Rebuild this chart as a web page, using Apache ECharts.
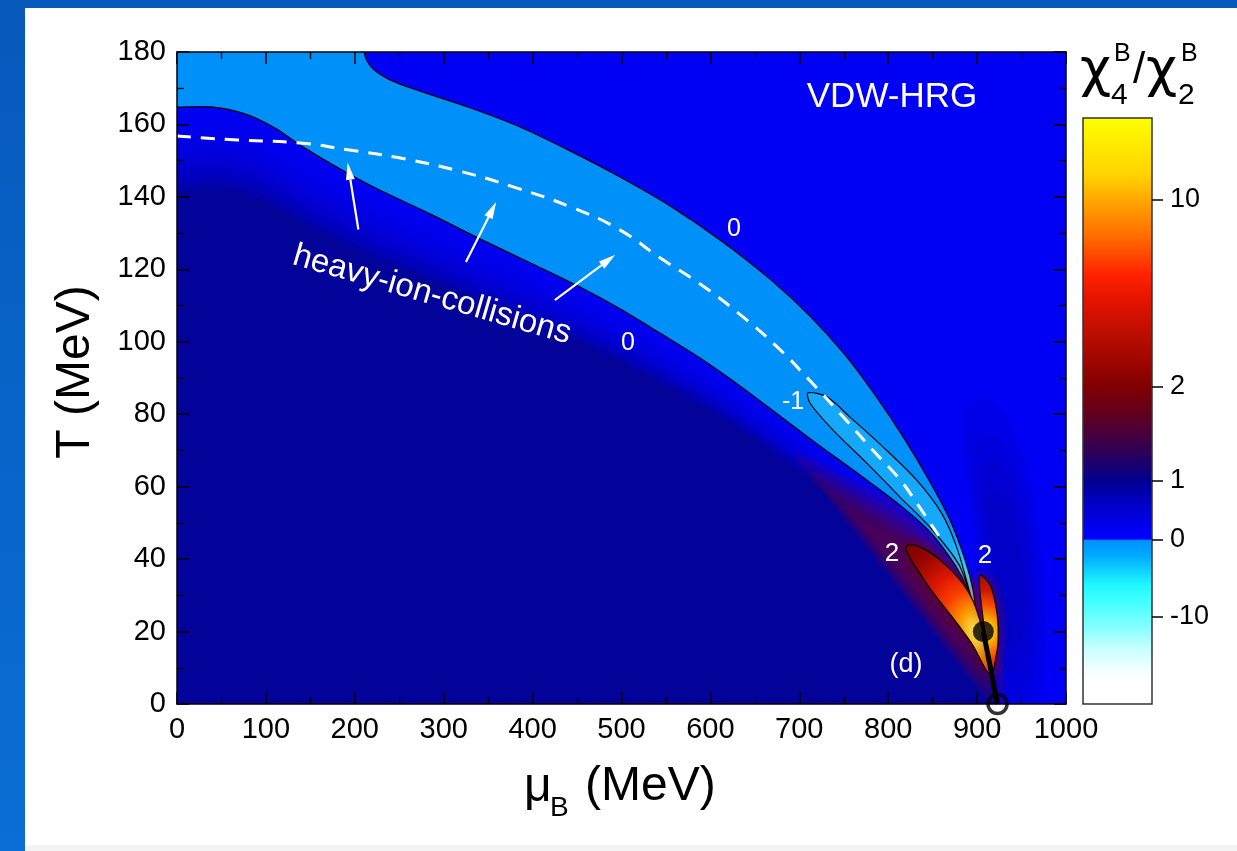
<!DOCTYPE html>
<html><head><meta charset="utf-8">
<script src="https://cdn.jsdelivr.net/npm/echarts/dist/echarts.min.js"></script>
<style>
html,body{margin:0;padding:0;width:1237px;height:851px;overflow:hidden;background:linear-gradient(180deg,#0759bb 0%,#0a6ed6 100%);}
#panel{position:absolute;left:25px;top:8px;width:1212px;height:843px;background:#fff;}
#foot{position:absolute;left:25px;top:845px;width:1212px;height:6px;background:#f3f3f3;}
#chart{position:absolute;left:0;top:0;width:1237px;height:851px;}
</style></head><body>
<div id="panel"></div><div id="foot"></div><div id="chart"></div>
<script>
// ---------------- data (muB in MeV, T in MeV) ----------------
const xTicks = [0,100,200,300,400,500,600,700,800,900,1000];
const yTicks = [0,20,40,60,80,100,120,140,160,180];
// upper chi4/chi2 = 0 contour (first point extends above the frame)
const upperZero = [[208,190],[210.3,180],[219.3,175.6],[239.6,172.3],[273.3,169.2],[329.6,164.6],[385.8,159.3],[442.1,152.7],[498.3,145.5],[554.6,137.5],[610.8,128.1],[667,117.3],[712,107.1],[751.4,96.4],[785.2,85.3],[818.9,72.9],[847,61.3],[869.5,50.8],[886.4,39.8],[895.4,31.5],[899.9,23.2]];
// lower chi4/chi2 = 0 contour (first point extends left of the frame)
const lowerZero = [[-40,164.8],[0,164.8],[40.5,164.8],[76.5,162.9],[110.2,159],[138.4,154.3],[177.7,148.5],[222.7,142.5],[284.6,135.3],[340.8,128.4],[397.1,121.8],[453.3,115.1],[498.3,109.1],[543.3,102.4],[588.3,95.5],[633.3,87.8],[678.3,79.5],[723.3,71.2],[768.3,63.2],[813.3,54.9],[847,47.5],[875.1,38.4],[889.8,31.5],[899.9,23.2]];
// chi4/chi2 = -1 contour
const minusOne = [[710,85.9],[731,84.8],[757,79.2],[794,71],[832,61.8],[860,52.7],[877,43.3],[892,30.6],[899.9,23.2],[881,37.8],[850,48],[813,57.2],[776,66.5],[738,75.6],[712,83.1]];
// chi4/chi2 = 2 contours
const twoLeft = [[822,43.9],[836,43.3],[858,39.8],[881,34.2],[895,28.7],[903,23.2],[909,17.7],[914.5,12.1],[918,8.8],[912,8.8],[895,16.3],[873,23.7],[850,30.9],[828,38.9],[820,42.5]];
const twoRight = [[903.3,35.6],[914.5,32.9],[922.4,25.1],[923.5,16.8],[920,11.3],[917,8],[914.5,12.1],[910,17.7],[905.5,26],[903,31.5]];
// faint halos of the colour field
const redHalo = [[715,64],[770,58],[825,51],[870,41],[900,28],[918,12],[915,4],[900,6],[870,15],[835,26],[790,40],[745,54]];
const darkHalo = [[895,72],[920,74],[945,64],[962,46],[968,25],[962,8],[945,2],[925,4],[915,20],[905,45]];
// region below the lower contour closes along the transition line and under the frame
const lowerClose = [[925,-20],[-40,-20]];
// chemical freeze-out curve (heavy-ion collisions)
const freezeOut = [[0,156.8],[68,155.7],[138,154.9],[192,153],[245,151],[313,147.4],[379,142.7],[446,136.9],[498,130.9],[542,123.4],[587,116.2],[631,108],[675,98.6],[711,89.5],[754,78],[783,70],[813,62],[832,55.5],[858,46]];
const criticalPoint = [907,20];
const endPoint = [923,0];
const arrowTails = [[204,131],[325,122],[425,111.5]];
const arrowHeads = [[192,149.4],[359,138.6],[493,124]];
const cbTickLabels = ['10','2','1','0','-10'];

// ---------------- chart ----------------
const FONT = '"Liberation Sans", Arial, Helvetica, sans-serif';
const chart = echarts.init(document.getElementById('chart'), null, {renderer:'canvas'});

function shapeSeries(name, pts, z, styleFn, closed, smooth) {
  return {
    type:'custom', name:name, z:z, clip:true, silent:true,
    data: pts, encode:{x:0, y:1},
    renderItem: function (params, api) {
      if (params.dataIndex !== 0) return null;
      const points = pts.map(p => api.coord(p));
      return { type: closed ? 'polygon' : 'polyline',
               shape: { points: points, smooth: smooth == null ? 0.3 : smooth },
               style: styleFn(api) };
    }
  };
}
// soft-edged halo: nested copies of one outline, shrunk about its centre
function haloSeries(name, pts, z, color, scales) {
  return {
    type:'custom', name:name, z:z, clip:true, silent:true,
    data: pts, encode:{x:0, y:1},
    renderItem: function (params, api) {
      if (params.dataIndex !== 0) return null;
      const P = pts.map(p => api.coord(p));
      const cx = P.reduce((s,p)=>s+p[0],0)/P.length, cy = P.reduce((s,p)=>s+p[1],0)/P.length;
      return { type:'group', children: scales.map(f => ({
        type:'polygon', shape:{points: P.map(p => [cx+(p[0]-cx)*f, cy+(p[1]-cy)*f]), smooth:0.4},
        style:{fill:color}
      }))};
    }
  };
}
// graded glow below the lower zero contour (stacked translucent strips)
function glowSeries(name, pts, z, layers, wideMax, narrowMax, color) {
  return {
    type:'custom', name:name, z:z, clip:true, silent:true,
    data: pts, encode:{x:0, y:1},
    renderItem: function (params, api) {
      if (params.dataIndex !== 0) return null;
      const P = pts.map(p => api.coord(p));
      const x0 = api.coord([0,0])[0], x1 = P[P.length-1][0];
      const children = [];
      for (let k = 1; k <= layers; k++) {
        const shifted = P.map(p => {
          const t = Math.min(1, Math.max(0, (p[0]-x0)/(x1-x0)));
          const s = (wideMax*(1-t) + narrowMax*t) * k / layers;
          return [p[0], p[1] + s];
        });
        children.push({type:'polygon', shape:{points: P.concat(shifted.reverse()), smooth:0.3}, style:{fill:color}});
      }
      return {type:'group', children};
    }
  };
}
function radial(api, centre, r, stops) {
  const c = api.coord(centre);
  return new echarts.graphic.RadialGradient(c[0], c[1], r, stops.map(s => ({offset:s[0], color:s[1]})), true);
}
const tip = upperZero[upperZero.length - 1];

const navyRegion = lowerZero.concat([criticalPoint, endPoint], lowerClose);
const band = [[-40,200],[208,200]].concat(upperZero, lowerZero.slice().reverse());

const axisCommon = {
  type:'value', z:20,
  axisLine:{show:true, onZero:false, lineStyle:{color:'#000', width:1.5}},
  axisTick:{show:true, inside:true, length:12, lineStyle:{color:'#000', width:1.5}},
  minorTick:{show:true, splitNumber:2, length:7, lineStyle:{color:'#000', width:1.3}},
  splitLine:{show:false}, minorSplitLine:{show:false}
};
const labelStyle = {show:true, color:'#000', fontSize:29, fontFamily:FONT, margin:11, formatter: v => String(v)};

const option = {
  animation:false,
  backgroundColor:'transparent',
  grid:{left:177, right:171, top:52, bottom:147, show:true, backgroundColor:'#0000f4', borderWidth:0, outerBoundsMode:'none', containLabel:false},
  xAxis:[
    Object.assign({}, axisCommon, {min:xTicks[0], max:xTicks[xTicks.length-1], interval:xTicks[1]-xTicks[0], position:'bottom', axisLabel:labelStyle}),
    Object.assign({}, axisCommon, {min:xTicks[0], max:xTicks[xTicks.length-1], interval:xTicks[1]-xTicks[0], position:'top', axisLabel:{show:false}})
  ],
  yAxis:[
    Object.assign({}, axisCommon, {min:yTicks[0], max:yTicks[yTicks.length-1], interval:yTicks[1]-yTicks[0], position:'left', axisLabel:labelStyle}),
    Object.assign({}, axisCommon, {min:yTicks[0], max:yTicks[yTicks.length-1], interval:yTicks[1]-yTicks[0], position:'right', axisLabel:{show:false}})
  ],
  series:[
    haloSeries('darkHalo', darkHalo, 1, 'rgba(0,0,150,0.13)', [1.25, 1.0, 0.8, 0.6]),
    shapeSeries('navy', navyRegion, 2, () => ({fill:'#030399'}), true, 0.3),
    glowSeries('glow', lowerZero, 3, 14, 85, 26, 'rgba(0,0,255,0.15)'),
    haloSeries('redHalo', redHalo, 3, 'rgba(115,0,55,0.18)', [1.15, 1.0, 0.85, 0.7, 0.55]),
    shapeSeries('band', band, 4, api => ({fill: radial(api, tip, 300, [[0,'#ffffff'],[0.05,'#e0ffff'],[0.12,'#60f4ff'],[0.2,'#20c8ff'],[0.28,'#0aa0ff'],[0.36,'#0090fa'],[1,'#0090fa']])}), true, 0.3),
    shapeSeries('zeroUpper', upperZero, 6, () => ({fill:null, stroke:'#000', lineWidth:1.2}), false, 0.3),
    shapeSeries('zeroLower', lowerZero, 6, () => ({fill:null, stroke:'#000', lineWidth:1.2}), false, 0.3),
    shapeSeries('minusOne', minusOne, 5, api => ({fill: radial(api, tip, 290, [[0,'#ffffff'],[0.05,'#e0ffff'],[0.12,'#60f4ff'],[0.2,'#2ac4ff'],[0.3,'#14a8ff'],[1,'#14a8ff']]), stroke:'#000', lineWidth:1.2}), true, 0.3),
    shapeSeries('twoLeft', twoLeft, 7, api => ({fill: radial(api, criticalPoint, 120, [[0,'#ffff90'],[0.1,'#ffe040'],[0.22,'#ff9a00'],[0.38,'#ff4000'],[0.55,'#e01800'],[0.75,'#a00800'],[1,'#700000']]), stroke:'#000', lineWidth:1.2, shadowBlur:14, shadowColor:'rgba(120,0,0,0.8)'}), true, 0.3),
    shapeSeries('twoRight', twoRight, 7, api => ({fill: radial(api, criticalPoint, 60, [[0,'#ffff90'],[0.2,'#ffc000'],[0.45,'#ff5000'],[0.7,'#d01800'],[1,'#900a00']]), stroke:'#000', lineWidth:1.2, shadowBlur:12, shadowColor:'rgba(150,0,0,0.7)'}), true, 0.3),
    { type:'line', name:'freeze-out', z:8, data:freezeOut, smooth:true, symbol:'none', silent:true,
      lineStyle:{color:'#ffffff', width:3, type:[14,10]} },
    { type:'line', name:'transition', z:9, data:[criticalPoint, endPoint], symbol:'none', silent:true,
      lineStyle:{color:'#000', width:5} },
    { type:'scatter', name:'CP', z:10, clip:false, data:[criticalPoint], symbol:'circle', symbolSize:21, silent:true,
      itemStyle:{color:'#000'} },
    { type:'scatter', name:'end', z:10, clip:false, data:[endPoint], symbol:'circle', symbolSize:19, silent:true,
      itemStyle:{color:'rgba(0,0,0,0)', borderColor:'#000', borderWidth:3.5} },
    { type:'custom', name:'arrows', z:9, clip:true, silent:true,
      data: arrowTails.map((t,i) => [t[0], t[1], arrowHeads[i][0], arrowHeads[i][1]]),
      encode:{x:[0,2], y:[1,3]},
      renderItem:function (params, api) {
        const a = api.coord([api.value(0), api.value(1)]);
        const b = api.coord([api.value(2), api.value(3)]);
        const dx = b[0]-a[0], dy = b[1]-a[1], L = Math.sqrt(dx*dx+dy*dy);
        const ux = dx/L, uy = dy/L, nx = -uy, ny = ux;
        const hl = 17, hw = 4.5;
        const bx = b[0]-ux*hl, by = b[1]-uy*hl;
        return { type:'group', children:[
          {type:'line', shape:{x1:a[0], y1:a[1], x2:bx, y2:by}, style:{stroke:'#fff', lineWidth:2.2}},
          {type:'polygon', shape:{points:[[b[0],b[1]],[bx+nx*hw,by+ny*hw],[bx-nx*hw,by-ny*hw]]}, style:{fill:'#fff'}}
        ]};
      }
    }
  ],
  graphic:[]
};

// colour bar (drawn as graphic)
const cb = {x:1083, y:118, w:69, h:586};
const cbStops = [[0,'#ffff00'],[0.097,'#ffd400'],[0.14,'#ffa800'],[0.191,'#ff7800'],[0.234,'#ff4a00'],[0.268,'#ff2200'],[0.311,'#e41400'],[0.362,'#c00e00'],[0.413,'#a00600'],[0.459,'#800000'],[0.507,'#600020'],[0.549,'#400044'],[0.584,'#200066'],[0.619,'#000090'],[0.66,'#0000c8'],[0.703,'#0000f4'],[0.718,'#0000ff'],[0.7201,'#0090ff'],[0.746,'#00aaff'],[0.771,'#10d0ff'],[0.797,'#20f8ff'],[0.823,'#40ffff'],[0.865,'#80ffff'],[0.899,'#c0ffff'],[0.933,'#ecffff'],[0.959,'#ffffff'],[1,'#ffffff']];
const cbTickY = [200,387,481,540,617];
const g = option.graphic;
g.push({type:'rect', z:30, shape:{x:cb.x, y:cb.y, width:cb.w, height:cb.h},
  style:{fill:new echarts.graphic.LinearGradient(0,0,0,1, cbStops.map(s=>({offset:s[0], color:s[1]}))), stroke:'#333', lineWidth:1.5}});
cbTickLabels.forEach((lab,i) => {
  g.push({type:'line', z:30, shape:{x1:cb.x+cb.w, y1:cbTickY[i], x2:cb.x+cb.w+11, y2:cbTickY[i]}, style:{stroke:'#000', lineWidth:1.5}});
  g.push({type:'text', z:30, x:cb.x+cb.w+18, y:cbTickY[i], style:{text:lab, fill:'#000', font:'27px '+FONT, align:'left', verticalAlign:'middle', textAlign:'left', textVerticalAlign:'middle'}});
});
function txt(s, x, y, size, color, align, rot, family) {
  const o = {type:'text', z:40, x:x, y:y, style:{text:s, fill:color, font:size+'px '+(family||FONT), align:align||'center', verticalAlign:'middle', textAlign:align||'center', textVerticalAlign:'middle'}};
  if (rot) o.rotation = rot;
  g.push(o);
}
const CHI = '"DejaVu Sans", "Noto Sans", sans-serif';
// colour bar title chi4^B / chi2^B
txt('\u03c7', 1080, 72, 54, '#000', 'left', 0, CHI);
txt('4', 1111, 96, 30, '#000', 'left');
txt('B', 1114, 54, 25, '#000', 'left');
txt('/', 1133, 71, 44, '#000', 'left');
txt('\u03c7', 1146, 72, 54, '#000', 'left', 0, CHI);
txt('2', 1178, 96, 30, '#000', 'left');
txt('B', 1181, 54, 25, '#000', 'left');
// axis titles
txt('T (MeV)', 76, 372, 48, '#000', 'center', Math.PI/2);
txt('\u03bc', 524, 788, 48, '#000', 'left');
txt('B', 550, 808, 28, '#000', 'left');
txt('(MeV)', 585, 787, 48, '#000', 'left');
// annotations inside the plot
txt('VDW-HRG', 892, 97, 35, '#fff');
txt('0', 734, 229, 25, '#fff');
txt('0', 628, 343, 25, '#fff');
txt('-1', 793, 402, 25, '#fff');
txt('2', 892, 554, 26, '#fff');
txt('2', 985, 556, 26, '#fff');
txt('(d)', 906, 665, 27, '#fff');
txt('heavy-ion-collisions', 432, 295, 33, '#fff', 'center', -0.281);

chart.setOption(option);
</script></body></html>
